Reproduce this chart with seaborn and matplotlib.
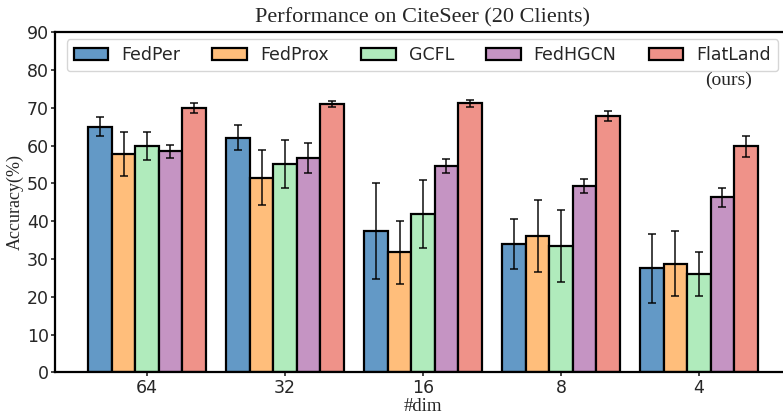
import matplotlib
matplotlib.use("Agg")
import matplotlib.pyplot as plt
import seaborn as sns
import pandas as pd
import numpy as np

# Embedding dimensions (x categories) and methods (hue)
dims = ["64", "32", "16", "8", "4"]
methods = ["FedPer", "FedProx", "GCFL", "FedHGCN", "FlatLand"]

# Mean accuracy (%) per method, ordered as dims
fedper_mean = [65.0, 62.1, 37.4, 34.1, 27.6]
fedprox_mean = [57.9, 51.5, 31.8, 36.1, 28.8]
gcfl_mean = [59.9, 55.2, 41.9, 33.5, 26.1]
fedhgcn_mean = [58.5, 56.8, 54.7, 49.3, 46.4]
flatland_mean = [70.0, 71.1, 71.2, 67.9, 59.8]

# Standard deviations, ordered as dims
fedper_std = [2.5, 3.3, 12.6, 6.6, 9.1]
fedprox_std = [5.8, 7.3, 8.3, 9.6, 8.6]
gcfl_std = [3.7, 6.4, 9.0, 9.6, 5.8]
fedhgcn_std = [1.8, 4.0, 1.8, 1.9, 2.5]
flatland_std = [1.4, 0.8, 1.0, 1.3, 2.7]

colors = ["#6399c6", "#ffbe7b", "#b0ebbc", "#c594c3", "#ef9289"]

means = [fedper_mean, fedprox_mean, gcfl_mean, fedhgcn_mean, flatland_mean]
stds = [fedper_std, fedprox_std, gcfl_std, fedhgcn_std, flatland_std]

rows = []
for m, mu, sd in zip(methods, means, stds):
    for d, v, s in zip(dims, mu, sd):
        rows.append({"dim": d, "method": m, "acc": v, "std": s})
df = pd.DataFrame(rows)

sns.set_style("ticks")
plt.rcParams["font.family"] = ["DejaVu Sans"]

fig = plt.figure(figsize=(7.83, 4.19), dpi=100)
ax = fig.add_axes([0.0702, 0.111, 0.940, 0.812])

sns.barplot(data=df, x="dim", y="acc", hue="method", order=dims,
            hue_order=methods, palette=colors, saturation=1, width=0.85,
            edgecolor="black", linewidth=1.6, errorbar=None, ax=ax)

# Error bars on top of each bar
for container, m in zip(ax.containers, methods):
    sub = df[df["method"] == m].set_index("dim").loc[dims]
    xs = [p.get_x() + p.get_width() / 2 for p in container.patches]
    hs = [p.get_height() for p in container.patches]
    ax.errorbar(xs, hs, yerr=sub["std"].values, fmt="none", ecolor="black",
                alpha=0.8, elinewidth=1.3, capsize=2.6, capthick=1.3)

ax.set_ylim(0, 90)
ax.set_xlim(-0.667, 4.667)
ax.set_yticks(np.arange(0, 91, 10))
ax.tick_params(axis="both", labelsize=12.5, width=1.2, length=3.0, pad=1.5)
for s in ax.spines.values():
    s.set_linewidth(1.6)
    s.set_color("black")

serif = ["Liberation Serif", "DejaVu Serif"]
ax.set_xlabel("#dim", fontsize=13.5, family=serif, labelpad=1)
ax.set_ylabel("Accuracy(%)", fontsize=13, family=serif, labelpad=2)
ax.set_title("Performance on CiteSeer (20 Clients)", fontsize=16,
             family=serif, pad=7)

handles, labels = ax.get_legend_handles_labels()
ax.legend(handles, labels, ncol=5, mode="expand", loc="center",
          bbox_to_anchor=(0.0852, 0.833, 0.9084, 0.0699),
          bbox_transform=fig.transFigure, borderaxespad=0,
          fontsize=12.5, handlelength=2.0, handleheight=0.7,
          handletextpad=0.75, frameon=True)

fig.text(729 / 783, 1 - 80 / 419, "(ours)", ha="center", va="center",
         fontsize=14, family=serif)

fig.savefig("out.png", dpi=100)
